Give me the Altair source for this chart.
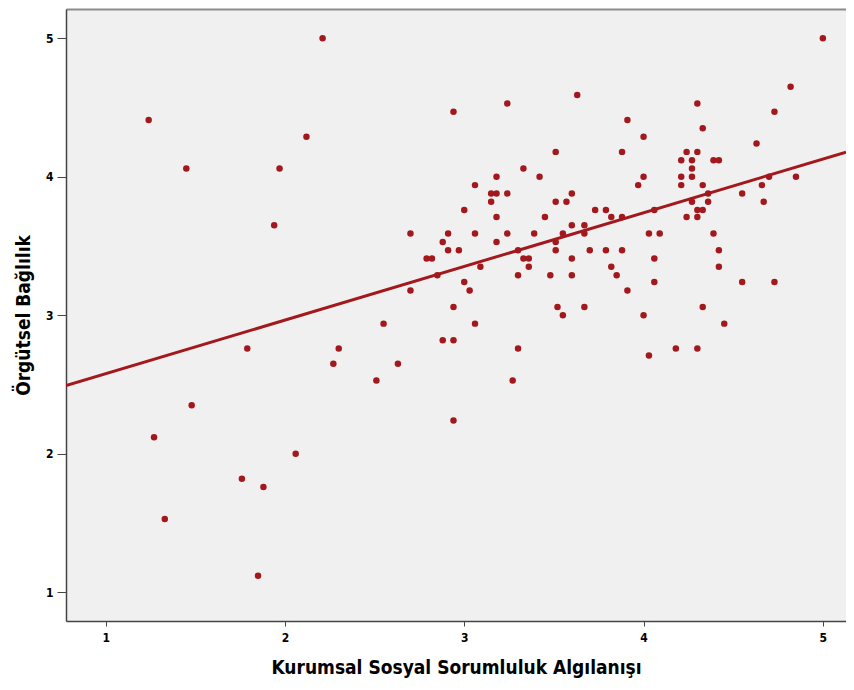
import altair as alt
import pandas as pd

# Kurumsal Sosyal Sorumluluk Algılanışı (x) and Örgütsel Bağlılık (y)
ksr = [2.21, 1.24, 2.12, 1.45, 1.97, 1.94, 1.79, 2.30, 2.27, 1.48, 1.27, 2.06, 1.76, 1.88, 1.33, 1.85,
       2.94, 3.06, 3.18, 3.15, 3.18, 3.15, 3.00, 3.18, 2.70, 2.91, 3.06, 3.18, 2.88, 2.91, 2.97, 2.79,
       2.82, 3.09, 2.85, 2.70, 3.00, 3.03, 2.94, 3.06, 2.55, 2.88, 2.94, 2.63, 2.51, 2.94,
       3.24, 3.63, 3.91, 4.00, 3.88, 3.51, 3.33, 3.42, 4.00, 3.97, 3.24, 3.60, 3.51, 3.57, 3.73, 3.79,
       3.82, 3.88, 4.06, 3.45, 3.60, 3.67, 3.67, 3.55, 3.39, 3.24, 3.51, 3.51, 3.30, 3.33, 3.36, 3.36,
       3.70, 3.79, 3.88, 3.60, 3.82, 3.85, 4.06, 4.03, 4.09, 3.30, 3.48, 3.60, 4.06, 3.91, 3.52, 3.55,
       3.67, 4.00, 4.18, 4.03, 3.30, 3.27,
       5.00, 4.82, 4.73, 4.30, 4.33, 4.63, 4.24, 4.30, 4.21, 4.27, 4.39, 4.42, 4.27, 4.21, 4.27, 4.21,
       4.33, 4.70, 4.85, 4.66, 4.55, 4.36, 4.67, 4.27, 4.36, 4.30, 4.33, 4.24, 4.30, 4.39, 4.42, 4.42,
       4.55, 4.73, 4.33, 4.45, 4.30]
ob = [5.00, 4.41, 4.29, 4.06, 4.06, 3.65, 2.76, 2.76, 2.65, 2.35, 2.12, 2.00, 1.82, 1.76, 1.53, 1.12,
      4.47, 3.94, 4.00, 3.88, 3.88, 3.82, 3.76, 3.71, 3.59, 3.59, 3.59, 3.53, 3.53, 3.47, 3.47, 3.41,
      3.41, 3.35, 3.29, 3.18, 3.24, 3.18, 3.06, 2.94, 2.94, 2.82, 2.82, 2.65, 2.53, 2.24,
      4.53, 4.59, 4.41, 4.29, 4.18, 4.18, 4.06, 4.00, 4.00, 3.94, 3.88, 3.88, 3.82, 3.82, 3.76, 3.76,
      3.71, 3.71, 3.76, 3.71, 3.65, 3.65, 3.59, 3.59, 3.59, 3.59, 3.53, 3.47, 3.47, 3.41, 3.41, 3.35,
      3.47, 3.47, 3.47, 3.41, 3.35, 3.29, 3.41, 3.59, 3.59, 3.29, 3.29, 3.29, 3.24, 3.18, 3.06, 3.00,
      3.06, 3.00, 2.76, 2.71, 2.76, 2.53,
      5.00, 4.65, 4.47, 4.53, 4.35, 4.24, 4.18, 4.18, 4.12, 4.12, 4.12, 4.12, 4.06, 4.00, 4.00, 3.94,
      3.94, 4.00, 4.00, 3.94, 3.88, 3.88, 3.82, 3.82, 3.82, 3.76, 3.76, 3.71, 3.71, 3.59, 3.47, 3.35,
      3.24, 3.24, 3.06, 2.94, 2.76]

# fitted regression line
fit_intercept = [2.19]
fit_slope = [0.3876]

x_domain = [0.779, 5.129]
y_domain = [0.793, 5.2116]
ticks = [1, 2, 3, 4, 5]

pts = pd.DataFrame({"x": ksr, "y": ob})
line_x = x_domain
line_df = pd.DataFrame({"x": line_x, "y": [fit_intercept[0] + fit_slope[0] * v for v in line_x]})

FONT = "Liberation Sans Narrow, Arial Narrow, DejaVu Sans Condensed, sans-serif"
RED = "#a3181c"

xscale = alt.Scale(domain=x_domain, nice=False, zero=False)
yscale = alt.Scale(domain=y_domain, nice=False, zero=False)

points = alt.Chart(pts).mark_circle(size=42, color=RED, opacity=1).encode(
    x=alt.X("x:Q", scale=xscale,
            axis=alt.Axis(values=ticks, format="d", title="Kurumsal Sosyal Sorumluluk Algılanışı",
                          grid=False, domainColor="#444444", domainWidth=1.5, tickColor="#444444",
                          tickSize=5, labelPadding=6, labelFont=FONT, labelFontSize=12,
                          labelFontWeight="bold", labelColor="#000000", titleFont=FONT,
                          titleFontSize=19, titleFontWeight="bold", titleColor="#000000",
                          titlePadding=15)),
    y=alt.Y("y:Q", scale=yscale,
            axis=alt.Axis(values=ticks, format="d", title="Örgütsel Bağlılık",
                          grid=False, domainColor="#444444", domainWidth=1.5, tickColor="#444444",
                          tickSize=9, labelPadding=4, labelFont=FONT, labelFontSize=12,
                          labelFontWeight="bold", labelColor="#000000", titleFont=FONT,
                          titleFontSize=19, titleFontWeight="bold", titleColor="#000000",
                          titlePadding=12)),
)

line = alt.Chart(line_df).mark_line(color=RED, strokeWidth=3, clip=True).encode(
    x=alt.X("x:Q", scale=xscale,
            axis=alt.Axis(orient="top", labels=False, ticks=False, title=None, grid=False,
                          domainColor="#8c8c8c", domainWidth=2)),
    y=alt.Y("y:Q", scale=yscale),
)

chart = alt.layer(points, line).resolve_axis(x="independent").properties(
    width=780, height=612,
    autosize=alt.AutoSizeParams(type="none"),
    padding={"left": 58, "top": 1, "right": 0, "bottom": 60},
    background="#ffffff",
).configure_view(stroke=None, fill="#f0f0f0")

chart.save("out.html", embed_options={"renderer": "svg", "actions": False})
